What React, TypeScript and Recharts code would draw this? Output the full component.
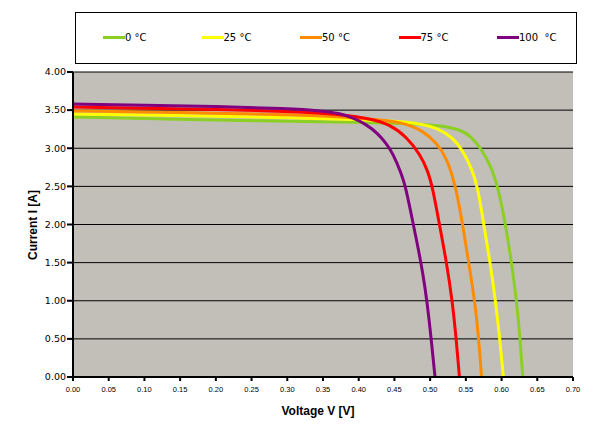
import React from 'react';
import { LineChart, Line, XAxis, YAxis, CartesianGrid, Legend } from 'recharts';

const seriesNames = ['0 °C', '25 °C', '50 °C', '75 °C', '100  °C'];
const seriesColors = ['#8CCF24', '#FFFF00', '#FF8C00', '#FF0000', '#800080'];

const curve0C = [
  { v: 0, i: 3.41 }, { v: 0.1, i: 3.39 }, { v: 0.2, i: 3.37 }, { v: 0.3, i: 3.355 },
  { v: 0.4, i: 3.34 }, { v: 0.46, i: 3.325 }, { v: 0.51, i: 3.305 }, { v: 0.542, i: 3.25 },
  { v: 0.558, i: 3.15 }, { v: 0.57, i: 3.01 }, { v: 0.584, i: 2.79 }, { v: 0.595, i: 2.5 },
  { v: 0.6055, i: 2.0 }, { v: 0.614, i: 1.5 }, { v: 0.621, i: 1.0 }, { v: 0.626, i: 0.5 },
  { v: 0.6296, i: 0 },
];
const curve25C = [
  { v: 0, i: 3.45 }, { v: 0.1, i: 3.435 }, { v: 0.2, i: 3.42 }, { v: 0.3, i: 3.40 },
  { v: 0.4, i: 3.38 }, { v: 0.46, i: 3.35 }, { v: 0.486, i: 3.32 }, { v: 0.509, i: 3.27 },
  { v: 0.532, i: 3.14 }, { v: 0.546, i: 2.96 }, { v: 0.558, i: 2.74 }, { v: 0.567, i: 2.48 },
  { v: 0.575, i: 2.0 }, { v: 0.584, i: 1.5 }, { v: 0.5915, i: 1.0 }, { v: 0.5975, i: 0.5 },
  { v: 0.6025, i: 0 },
];
const curve50C = [
  { v: 0, i: 3.49 }, { v: 0.1, i: 3.475 }, { v: 0.2, i: 3.46 }, { v: 0.3, i: 3.445 },
  { v: 0.416, i: 3.39 }, { v: 0.462, i: 3.34 }, { v: 0.49, i: 3.23 }, { v: 0.509, i: 3.07 },
  { v: 0.523, i: 2.88 }, { v: 0.536, i: 2.5 }, { v: 0.5455, i: 2.0 }, { v: 0.554, i: 1.5 },
  { v: 0.5625, i: 1.0 }, { v: 0.568, i: 0.5 }, { v: 0.572, i: 0 },
];
const curve75C = [
  { v: 0, i: 3.54 }, { v: 0.1, i: 3.525 }, { v: 0.2, i: 3.51 }, { v: 0.3, i: 3.485 },
  { v: 0.37, i: 3.45 }, { v: 0.416, i: 3.39 }, { v: 0.444, i: 3.31 }, { v: 0.467, i: 3.15 },
  { v: 0.486, i: 2.92 }, { v: 0.497, i: 2.7 }, { v: 0.504, i: 2.46 }, { v: 0.513, i: 2.0 },
  { v: 0.523, i: 1.5 }, { v: 0.531, i: 1.0 }, { v: 0.5365, i: 0.5 }, { v: 0.541, i: 0 },
];
const curve100C = [
  { v: 0, i: 3.58 }, { v: 0.1, i: 3.565 }, { v: 0.2, i: 3.55 }, { v: 0.3, i: 3.52 },
  { v: 0.35, i: 3.49 }, { v: 0.372, i: 3.46 }, { v: 0.392, i: 3.40 }, { v: 0.411, i: 3.31 },
  { v: 0.426, i: 3.20 }, { v: 0.439, i: 3.06 }, { v: 0.448, i: 2.93 }, { v: 0.46, i: 2.66 },
  { v: 0.4655, i: 2.5 }, { v: 0.4765, i: 2.0 }, { v: 0.483, i: 1.7 }, { v: 0.49, i: 1.35 },
  { v: 0.4955, i: 1.0 }, { v: 0.5015, i: 0.5 }, { v: 0.5068, i: 0 },
];
const allCurves = [curve0C, curve25C, curve50C, curve75C, curve100C];

const xTicks = [0, 0.05, 0.1, 0.15, 0.2, 0.25, 0.3, 0.35, 0.4, 0.45, 0.5, 0.55, 0.6, 0.65, 0.7];
const yTicks = [0, 0.5, 1, 1.5, 2, 2.5, 3, 3.5, 4];

const FONT = 'Tahoma, "DejaVu Sans", "Liberation Sans", sans-serif';
const TITLE_FONT = '"Liberation Sans", Arial, sans-serif';

const LegendBox = () => (
  <div
    style={{
      position: 'relative',
      width: 500,
      height: 50,
      border: '1px solid #000',
      background: '#fff',
      fontFamily: FONT,
      fontSize: 10,
    }}
  >
    {seriesNames.map((name, idx) => (
      <div
        key={name}
        style={{
          position: 'absolute',
          left: 27 + idx * 98.5,
          top: 19,
          display: 'flex',
          alignItems: 'center',
          whiteSpace: 'pre',
        }}
      >
        <span style={{ display: 'inline-block', width: 22, height: 3, background: seriesColors[idx] }} />
        <span style={{ color: '#000' }}>{name}</span>
      </div>
    ))}
  </div>
);

export default function App() {
  return (
    <div style={{ position: 'absolute', left: 0, top: 0, width: 612, height: 431, background: '#fff' }}>
      <LineChart width={612} height={431} margin={{ top: 72, right: 39, bottom: 24, left: 0 }}>
        <CartesianGrid horizontal vertical={false} stroke="#000" strokeWidth={1} fill="#C2BFB9" fillOpacity={1} />
        <XAxis
          type="number"
          dataKey="v"
          domain={[0, 0.7]}
          ticks={xTicks}
          interval={0}
          allowDataOverflow
          height={30}
          tickFormatter={(t: number) => t.toFixed(2)}
          tick={{ fontSize: 7.5, fill: '#000', fontFamily: TITLE_FONT }}
          tickSize={4}
          tickMargin={6}
          axisLine={{ stroke: '#000', strokeWidth: 2 }}
          tickLine={{ stroke: '#000', strokeWidth: 2 }}
          label={() => (
            <text x={318} y={415} textAnchor="middle" fontFamily={TITLE_FONT} fontWeight="bold" fontSize={12} fill="#000">
              Voltage V [V]
            </text>
          )}
        />
        <YAxis
          type="number"
          dataKey="i"
          domain={[0, 4]}
          ticks={yTicks}
          interval={0}
          width={73}
          tickFormatter={(t: number) => t.toFixed(2)}
          tick={{ fontSize: 9.5, fill: '#000', fontFamily: FONT }}
          tickSize={6}
          tickMargin={1}
          axisLine={{ stroke: '#000', strokeWidth: 2 }}
          tickLine={{ stroke: '#000', strokeWidth: 2 }}
          label={() => (
            <text
              x={37}
              y={225}
              textAnchor="middle"
              transform="rotate(-90 37 225)"
              fontFamily={TITLE_FONT}
              fontWeight="bold"
              fontSize={12}
              fill="#000"
            >
              Current I [A]
            </text>
          )}
        />
        <Legend
          layout="horizontal"
          verticalAlign="middle"
          align="center"
          wrapperStyle={{ top: 12, left: 75, width: 502, height: 52 }}
          content={() => <LegendBox />}
        />
        {allCurves.map((curve, idx) => (
          <Line
            key={seriesNames[idx]}
            data={curve}
            dataKey="i"
            name={seriesNames[idx]}
            type="basis"
            stroke={seriesColors[idx]}
            strokeWidth={3}
            dot={false}
            activeDot={false}
            isAnimationActive={false}
          />
        ))}
      </LineChart>
    </div>
  );
}
